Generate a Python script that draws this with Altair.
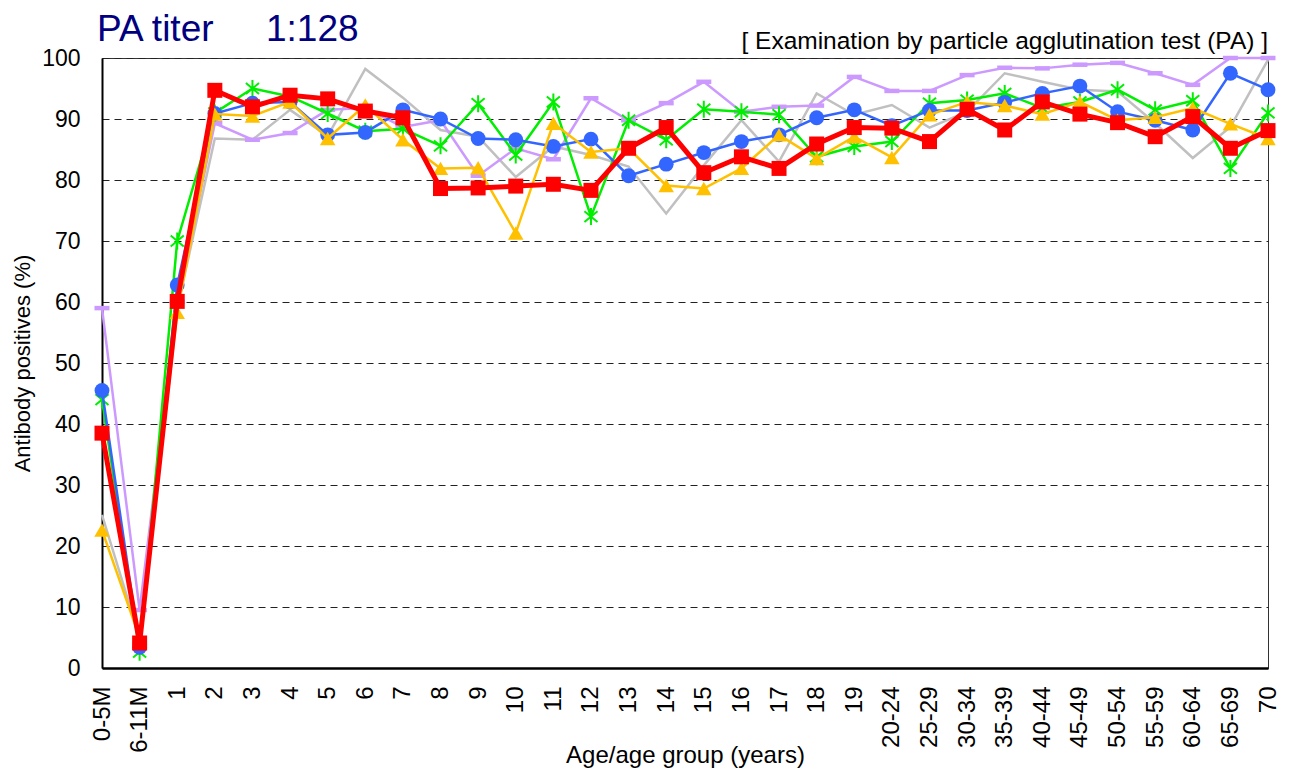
import altair as alt
import pandas as pd

ages = ["0-5M", "6-11M", "1", "2", "3", "4", "5", "6", "7", "8", "9", "10",
        "11", "12", "13", "14", "15", "16", "17", "18", "19", "20-24", "25-29",
        "30-34", "35-39", "40-44", "45-49", "50-54", "55-59", "60-64", "65-69", "70"]

gray = [25.1, 5.0, 59.0, 86.8, 86.6, 91.5, 87.2, 98.2, 93.5, 88.2, 87.1, 80.5,
        85.5, 84.1, 82.2, 74.5, 82.4, 89.8, 83.0, 94.2, 90.7, 92.3, 88.6,
        91.2, 97.5, 96.1, 94.8, 94.5, 89.3, 83.6, 88.7, 99.7]
lavender = [59.0, 9.5, 60.0, 89.3, 86.6, 87.7, 91.5, 91.8, 88.7, 89.8, 80.7, 85.2,
            83.4, 93.4, 89.8, 92.6, 96.1, 91.2, 92.0, 92.2, 96.9, 94.6, 94.6,
            97.2, 98.4, 98.3, 98.9, 99.2, 97.5, 95.6, 100.0, 100.0]
green = [44.0, 2.6, 70.0, 91.0, 95.0, 93.7, 90.9, 88.0, 88.4, 85.6, 92.5, 84.1,
         92.8, 74.0, 89.8, 86.6, 91.6, 91.2, 90.7, 83.8, 85.5, 86.3, 92.6,
         93.1, 94.2, 91.8, 92.8, 94.8, 91.5, 93.0, 81.9, 91.0]
blue = [45.5, 3.4, 62.8, 90.9, 92.6, 92.8, 87.4, 87.8, 91.5, 90.0, 86.8, 86.6,
        85.5, 86.7, 80.7, 82.6, 84.5, 86.3, 87.4, 90.2, 91.5, 88.9, 91.4,
        91.4, 92.7, 94.2, 95.4, 91.2, 89.8, 88.2, 97.5, 94.8]
yellow = [22.6, 5.0, 58.3, 90.8, 90.5, 92.8, 86.8, 92.3, 86.6, 81.9, 82.0, 71.3,
          89.3, 84.6, 85.2, 79.1, 78.6, 81.9, 87.4, 83.5, 87.1, 83.7, 90.7,
          92.8, 92.2, 90.8, 92.8, 89.8, 90.3, 91.8, 89.2, 86.8]
red = [38.5, 4.1, 60.1, 94.7, 92.0, 93.9, 93.3, 91.3, 90.2, 78.6, 78.7, 79.0,
       79.3, 78.3, 85.2, 88.6, 81.2, 83.8, 81.9, 85.9, 88.6, 88.5, 86.3,
       91.6, 88.2, 92.8, 90.8, 89.4, 87.1, 90.4, 85.2, 88.1]

y_ticks = [0, 10, 20, 30, 40, 50, 60, 70, 80, 90, 100]

title_text = "PA titer"
titer_text = "1:128"
note_text = "[ Examination by particle agglutination test (PA) ]"
x_title = "Age/age group (years)"
y_title = "Antibody positives (%)"

FONT = "Liberation Sans"
PLOT_W = 1166

series = [
    ("gray", gray), ("lavender", lavender), ("green", green),
    ("blue", blue), ("yellow", yellow), ("red", red),
]
rows = []
for name, vals in series:
    for i, (a, v) in enumerate(zip(ages, vals)):
        rows.append({"age": a, "idx": i, "s": name, "v": v})
df = pd.DataFrame(rows)

xenc = alt.X(
    "age:N", sort=ages,
    scale=alt.Scale(type="point", padding=0),
    axis=alt.Axis(
        title=x_title, labelAngle=-90, labelFontSize=24, labelPadding=18,
        ticks=False, grid=False, domainColor="#000000", domainWidth=2.5,
        titleFontSize=24, titleFontWeight="normal", titleY=94,
        titleBaseline="alphabetic", labelColor="#000000", titleColor="#000000",
    ),
)
yenc = alt.Y(
    "v:Q",
    scale=alt.Scale(domain=[0, 100], nice=False, zero=True),
    axis=alt.Axis(
        title=y_title, values=y_ticks, labelFontSize=23, labelPadding=22,
        ticks=False, grid=True, gridColor="#222222", gridDash=[7, 5],
        gridWidth=1, domainColor="#000000", domainWidth=2,
        titleFontSize=22, titleFontWeight="normal", titlePadding=7,
        labelColor="#000000", titleColor="#000000",
    ),
)

base = alt.Chart(df)

def line_layer(name, color, width):
    return base.transform_filter(alt.datum.s == name).mark_line(
        color=color, strokeWidth=width, strokeJoin="miter"
    ).encode(x=xenc, y=yenc, order="idx:Q")

def point_layer(name, color, shape, size, filled=True, sw=0):
    kw = dict(shape=shape, size=size, color=color, opacity=1, filled=filled)
    if not filled:
        kw["strokeWidth"] = sw
    return base.transform_filter(alt.datum.s == name).mark_point(**kw).encode(
        x=xenc, y=yenc
    )

dash_path = "M-1,-0.3L1,-0.3L1,0.3L-1,0.3Z"
aster_path = "M0,-1L0,1M-0.77,-0.64L0.77,0.64M-0.77,0.64L0.77,-0.64"

c_gray = "#C0C0C0"
c_lav = "#CC99FF"
c_green = "#00EE00"
c_blue = "#3366FF"
c_yellow = "#FFC000"
c_red = "#FF0000"

layers = [
    line_layer("gray", c_gray, 2.5),
    line_layer("lavender", c_lav, 2.5),
    point_layer("lavender", c_lav, dash_path, 225),
    line_layer("green", c_green, 2.5),
    point_layer("green", c_green, aster_path, 289, filled=False, sw=2),
    line_layer("blue", c_blue, 2.5),
    point_layer("blue", c_blue, "circle", 220),
    line_layer("yellow", c_yellow, 2.5),
    point_layer("yellow", c_yellow, "triangle-up", 240),
    line_layer("red", c_red, 5),
    point_layer("red", c_red, "square", 225),
]

t1 = alt.Chart(pd.DataFrame({"t": [title_text]})).mark_text(
    align="left", baseline="alphabetic", fontSize=37, color="#000080", font=FONT
).encode(text="t:N", x=alt.value(-5), y=alt.value(-17))
t2 = alt.Chart(pd.DataFrame({"t": [titer_text]})).mark_text(
    align="left", baseline="alphabetic", fontSize=37, color="#000080", font=FONT
).encode(text="t:N", x=alt.value(164), y=alt.value(-17))
t3 = alt.Chart(pd.DataFrame({"t": [note_text]})).mark_text(
    align="right", baseline="alphabetic", fontSize=24.5, color="#000000", font=FONT
).encode(text="t:N", x=alt.value(PLOT_W), y=alt.value(-9))

chart = alt.layer(*layers, t1, t2, t3).properties(
    width=PLOT_W, height=610,
    autosize=alt.AutoSizeParams(type="none"),
    padding={"left": 94, "top": 50, "right": 14, "bottom": 100},
).configure_view(
    stroke="#333333", strokeWidth=1
).configure_axis(
    labelFont=FONT, titleFont=FONT
).configure_text(font=FONT)

chart.save("out.html", embed_options={"renderer": "svg", "actions": False})
